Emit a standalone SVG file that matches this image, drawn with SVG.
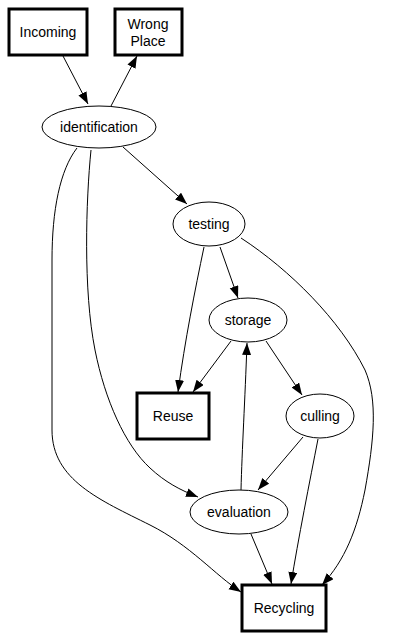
<svg xmlns="http://www.w3.org/2000/svg" width="416" height="639" viewBox="0 0 416 639">
<style>
text{font-family:"Liberation Sans",Arial,sans-serif;font-size:14px;fill:#000;text-anchor:middle;dominant-baseline:central}
.box{fill:#fff;stroke:#000;stroke-width:3}
.ell{fill:#fff;stroke:#000;stroke-width:1}
.edge{fill:none;stroke:#000;stroke-width:1;marker-end:url(#arr)}
</style>
<defs>
<marker id="arr" markerUnits="userSpaceOnUse" markerWidth="13" markerHeight="10" refX="12" refY="4.5" orient="auto">
<path d="M0,0 L12,4.5 L0,9 z" fill="#000"/>
</marker>
</defs>
<rect width="416" height="639" fill="#fff"/>
<g id="edges">
<path class="edge" d="M63,56 L88,104"/>
<path class="edge" d="M111,106 L137,56"/>
<path class="edge" d="M123,147 L187,204"/>
<path class="edge" d="M77,148 C60,170 52,210 52,260 L52,430 C52,480 100,500 150,525 C190,545 215,575 241,592"/>
<path class="edge" d="M91,150 C86,200 83,290 95,350 C105,400 125,445 150,468 C165,482 180,490 198,497"/>
<path class="edge" d="M220,247 L238,298"/>
<path class="edge" d="M204,247 C195,290 185,340 178,392"/>
<path class="edge" d="M241,238 C290,270 340,320 365,370 C378,400 374,440 365,490 C357,530 345,560 322,585"/>
<path class="edge" d="M231,341 L193,392"/>
<path class="edge" d="M266,341 L302,395"/>
<path class="edge" d="M241,490 C242,450 245,400 247,343"/>
<path class="edge" d="M303,437 L258,490"/>
<path class="edge" d="M318,439 C310,480 298,540 291,584"/>
<path class="edge" d="M251,534 L272,584"/>
</g>
<g id="incoming"><rect class="box" x="9" y="9" width="78" height="46"/><text x="48" y="32">Incoming</text></g>
<g id="wrongplace"><rect class="box" x="115" y="9" width="67" height="46"/><text x="148" y="24">Wrong</text><text x="148" y="41">Place</text></g>
<g id="identification"><ellipse class="ell" cx="99" cy="127" rx="57" ry="21"/><text x="99" y="127">identification</text></g>
<g id="testing"><ellipse class="ell" cx="209" cy="224" rx="36" ry="22"/><text x="209" y="224">testing</text></g>
<g id="storage"><ellipse class="ell" cx="248" cy="320" rx="39" ry="22"/><text x="248" y="320">storage</text></g>
<g id="reuse"><rect class="box" x="137" y="393" width="72" height="46"/><text x="173" y="416">Reuse</text></g>
<g id="culling"><ellipse class="ell" cx="320" cy="416" rx="34" ry="22"/><text x="320" y="416">culling</text></g>
<g id="evaluation"><ellipse class="ell" cx="239" cy="512" rx="49" ry="22"/><text x="239" y="512">evaluation</text></g>
<g id="recycling"><rect class="box" x="242" y="585" width="84" height="46"/><text x="284" y="608">Recycling</text></g>
</svg>
